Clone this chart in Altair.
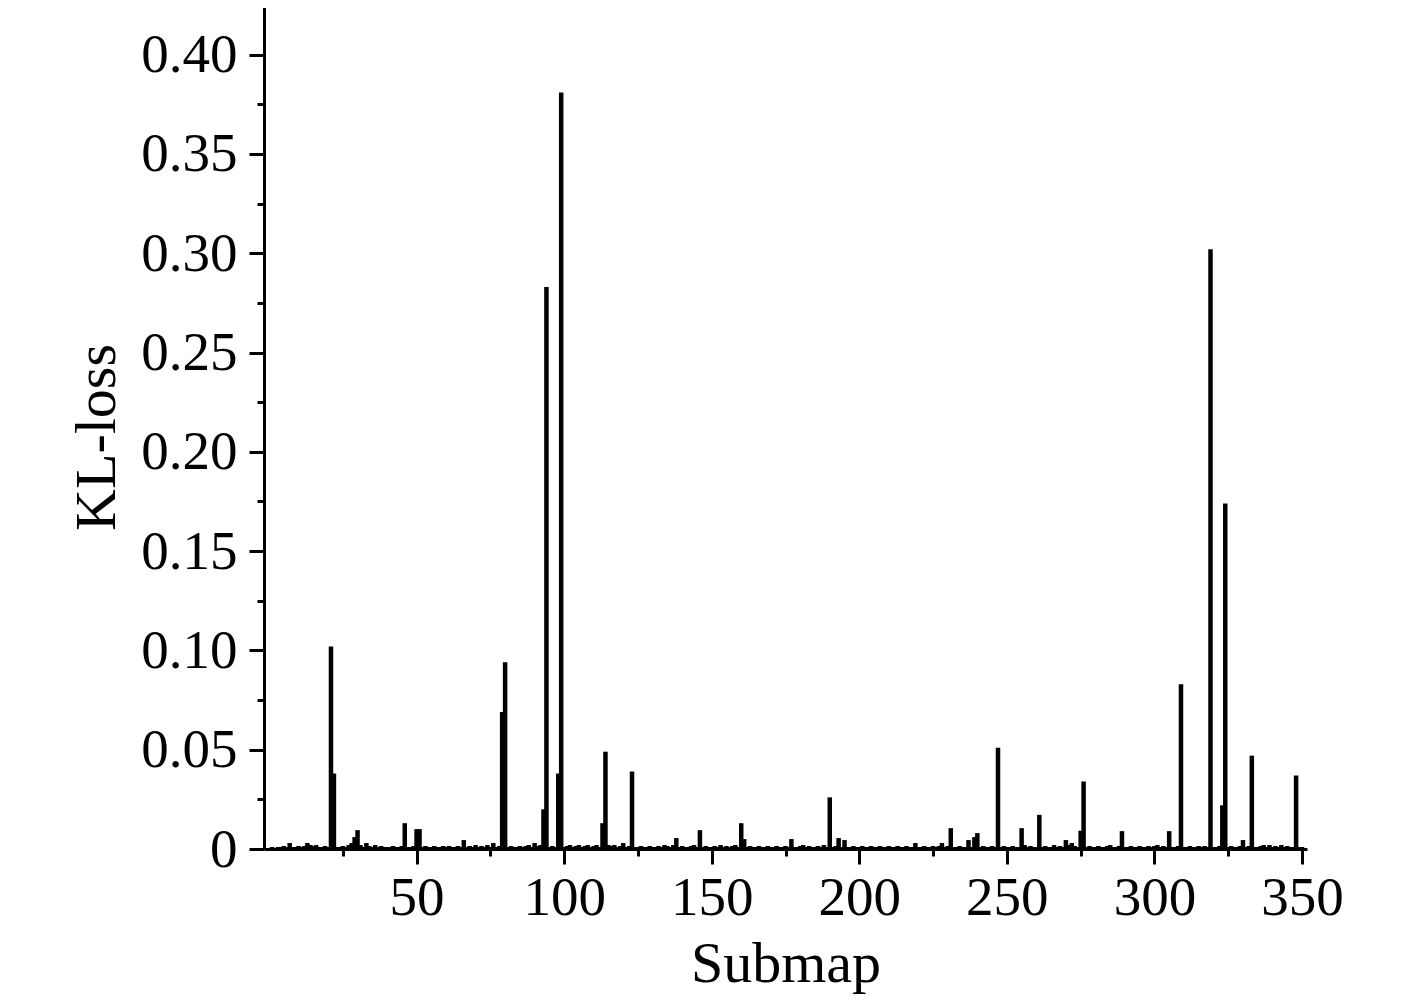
import altair as alt
import pandas as pd

# KL-loss per submap (submaps 1..350)
kl_loss = [
    0.001, 0.0005, 0.001, 0.001, 0.0015, 0.001, 0.003, 0.001, 0.001, 0.0015,
    0.001, 0.0015, 0.003, 0.002, 0.0015, 0.002, 0.001, 0.001, 0.0015, 0.001,
    0.102, 0.038, 0.001, 0.001, 0.0015, 0.001, 0.002, 0.003, 0.006, 0.0095,
    0.002, 0.001, 0.003, 0.0015, 0.001, 0.002, 0.001, 0.0015, 0.001, 0.001,
    0.001, 0.0015, 0.001, 0.001, 0.0015, 0.013, 0.001, 0.001, 0.0015, 0.010,
    0.010, 0.001, 0.0015, 0.001, 0.001, 0.0015, 0.001, 0.001, 0.0015, 0.001,
    0.0015, 0.001, 0.001, 0.0015, 0.001, 0.0045, 0.001, 0.0015, 0.001, 0.002,
    0.001, 0.0015, 0.001, 0.002, 0.001, 0.003, 0.001, 0.0015, 0.069, 0.094,
    0.001, 0.0015, 0.001, 0.001, 0.0015, 0.001, 0.0015, 0.002, 0.001, 0.003,
    0.0015, 0.002, 0.020, 0.283, 0.001, 0.0015, 0.001, 0.038, 0.381, 0.001,
    0.0015, 0.002, 0.001, 0.0015, 0.002, 0.001, 0.0015, 0.002, 0.001, 0.0015,
    0.002, 0.001, 0.013, 0.049, 0.002, 0.0015, 0.002, 0.001, 0.0015, 0.003,
    0.001, 0.0015, 0.039, 0.001, 0.001, 0.0015, 0.001, 0.001, 0.0015, 0.001,
    0.001, 0.0015, 0.001, 0.002, 0.0015, 0.001, 0.002, 0.0055, 0.001, 0.0015,
    0.001, 0.001, 0.0015, 0.002, 0.001, 0.0095, 0.001, 0.0015, 0.001, 0.001,
    0.0015, 0.001, 0.002, 0.001, 0.0015, 0.001, 0.0015, 0.002, 0.001, 0.013,
    0.005, 0.001, 0.0015, 0.001, 0.001, 0.0015, 0.001, 0.001, 0.0015, 0.001,
    0.001, 0.0015, 0.001, 0.001, 0.0015, 0.001, 0.005, 0.001, 0.001, 0.0015,
    0.002, 0.001, 0.0015, 0.001, 0.001, 0.0015, 0.001, 0.002, 0.001, 0.026,
    0.001, 0.0015, 0.0055, 0.001, 0.0045, 0.001, 0.001, 0.0015, 0.001, 0.001,
    0.0015, 0.001, 0.001, 0.0015, 0.001, 0.001, 0.0015, 0.001, 0.001, 0.0015,
    0.001, 0.001, 0.0015, 0.001, 0.001, 0.0015, 0.001, 0.001, 0.003, 0.001,
    0.001, 0.0015, 0.001, 0.001, 0.0015, 0.001, 0.0015, 0.003, 0.001, 0.0015,
    0.0105, 0.001, 0.001, 0.0015, 0.001, 0.001, 0.0045, 0.001, 0.006, 0.008,
    0.001, 0.0015, 0.001, 0.001, 0.0015, 0.001, 0.051, 0.001, 0.0015, 0.001,
    0.001, 0.0015, 0.001, 0.001, 0.0105, 0.002, 0.001, 0.0015, 0.001, 0.001,
    0.0172, 0.001, 0.0015, 0.001, 0.001, 0.002, 0.001, 0.0015, 0.001, 0.0045,
    0.002, 0.003, 0.0015, 0.001, 0.0092, 0.034, 0.001, 0.0015, 0.001, 0.001,
    0.0015, 0.001, 0.001, 0.0015, 0.002, 0.001, 0.001, 0.0015, 0.009, 0.001,
    0.001, 0.0015, 0.001, 0.001, 0.0015, 0.001, 0.001, 0.0015, 0.001, 0.0015,
    0.002, 0.001, 0.0015, 0.001, 0.009, 0.001, 0.001, 0.0015, 0.083, 0.001,
    0.001, 0.0015, 0.001, 0.001, 0.0015, 0.001, 0.0015, 0.001, 0.302, 0.001,
    0.001, 0.0015, 0.022, 0.174, 0.001, 0.0015, 0.001, 0.001, 0.0015, 0.0045,
    0.001, 0.0015, 0.047, 0.001, 0.001, 0.0015, 0.002, 0.001, 0.002, 0.001,
    0.0015, 0.001, 0.002, 0.001, 0.0015, 0.001, 0.001, 0.037, 0.001, 0.001,
]
submaps = list(range(1, len(kl_loss) + 1))

x_ticks = [25, 50, 75, 100, 125, 150, 175, 200, 225, 250, 275, 300, 325, 350]
y_ticks = [0, 0.025, 0.05, 0.075, 0.1, 0.125, 0.15, 0.175, 0.2, 0.225, 0.25,
           0.275, 0.3, 0.325, 0.35, 0.375, 0.4, 0.425]

df = pd.DataFrame({"Submap": submaps, "KL": kl_loss})

FONT = "Liberation Serif"

x_axis = alt.Axis(
    values=x_ticks,
    labelExpr="datum.value % 50 == 0 ? datum.value : ''",
    tickSize={"condition": {"test": "datum.value % 50 == 0", "value": 15}, "value": 7},
    tickWidth=3,
    tickColor="black",
    domainWidth=3,
    domainColor="black",
    grid=False,
    labelFont=FONT,
    labelFontSize=55,
    labelColor="black",
    labelPadding=7,
    labelFlush=False,
    labelOverlap=False,
    title="Submap",
    titleFont=FONT,
    titleFontSize=58,
    titleFontWeight="normal",
    titleColor="black",
    titlePadding=10,
)

y_axis = alt.Axis(
    values=y_ticks,
    labelExpr="round(datum.value*1000) % 50 == 0 ? (datum.value == 0 ? '0' : format(datum.value, '.2f')) : ''",
    tickSize={"condition": {"test": "round(datum.value*1000) % 50 == 0", "value": 15}, "value": 7},
    tickWidth=3,
    tickColor="black",
    domainWidth=3,
    domainColor="black",
    grid=False,
    labelFont=FONT,
    labelFontSize=55,
    labelColor="black",
    labelPadding=12,
    labelFlush=False,
    labelOverlap=False,
    title="KL-loss",
    titleFont=FONT,
    titleFontSize=58,
    titleFontWeight="normal",
    titleColor="black",
    titlePadding=14,
    titleY=432,
)

chart = (
    alt.Chart(df)
    .mark_bar(size=4.5, color="black")
    .encode(
        x=alt.X("Submap:Q", scale=alt.Scale(domain=[0, 350], nice=False, zero=False), axis=x_axis),
        y=alt.Y("KL:Q", scale=alt.Scale(domain=[0, 0.425], nice=False), axis=y_axis),
    )
    .properties(
        width=1043,
        height=844,
        autosize=alt.AutoSizeParams(type="none"),
        padding={"left": 256, "top": -3, "right": 60, "bottom": 150},
    )
    .configure(background="white")
    .configure_view(strokeWidth=0, stroke="transparent")
)

chart.save("out.html", embed_options={"renderer": "svg", "actions": False})
